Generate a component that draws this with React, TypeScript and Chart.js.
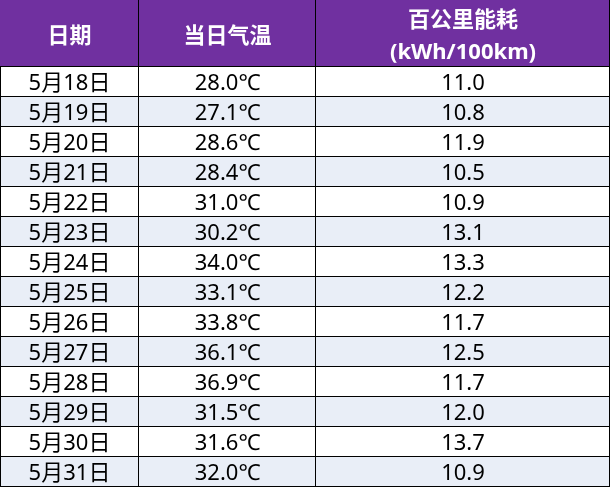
import React, { useEffect, useRef } from 'react';
import { Chart, registerables } from 'chart.js';

Chart.register(...registerables);

// ---- data ----
const dates = ['5月18日', '5月19日', '5月20日', '5月21日', '5月22日', '5月23日', '5月24日', '5月25日', '5月26日', '5月27日', '5月28日', '5月29日', '5月30日', '5月31日'];
const temps = [28.0, 27.1, 28.6, 28.4, 31.0, 30.2, 34.0, 33.1, 33.8, 36.1, 36.9, 31.5, 31.6, 32.0];
const energy = [11.0, 10.8, 11.9, 10.5, 10.9, 13.1, 13.3, 12.2, 11.7, 12.5, 11.7, 12.0, 13.7, 10.9];
const headerLines: string[][] = [['日期'], ['当日气温'], ['百公里能耗', '(kWh/100km)']];

// ---- layout (not data) ----
const W = 610;
const H = 487;
const HEADER_H = 67;
const colEdges = [0, 139, 316, 610];
const PURPLE = '#7030A0';
const STRIPE = '#E9EEF7';
const FONT = '"Noto Sans", "Noto Sans CJK SC", sans-serif';

const cellText = (col: number, i: number): string => {
  if (col === 0) return dates[i];
  if (col === 1) return temps[i].toFixed(1) + '℃';
  return energy[i].toFixed(1);
};

const tablePlugin = {
  id: 'tablePlugin',
  beforeDatasetsDraw(chart: any) {
    const { ctx, chartArea } = chart;
    ctx.save();
    ctx.fillStyle = PURPLE;
    ctx.fillRect(0, 0, W, chartArea.top);
    ctx.restore();
  },
  afterDatasetsDraw(chart: any) {
    const { ctx, chartArea, scales } = chart;
    const x = scales.x;
    ctx.save();
    // header bottom line
    ctx.fillStyle = '#000';
    ctx.fillRect(0, chartArea.top - 1, W, 1);
    // header column separators
    for (let j = 1; j < colEdges.length; j++) {
      const px = Math.round(x.getPixelForValue(colEdges[j]));
      ctx.fillRect(px - 1, 0, 1, chartArea.top);
    }
    // header text
    ctx.fillStyle = '#fff';
    ctx.textAlign = 'center';
    ctx.textBaseline = 'alphabetic';
    ctx.font = `bold 22px ${FONT}`;
    headerLines.forEach((lines, j) => {
      const cx = x.getPixelForValue((colEdges[j] + colEdges[j + 1]) / 2);
      const cy = (chartArea.top - 1) / 2; // 33
      const lh = 32;
      lines.forEach((t, k) => {
        const y = cy + (k - (lines.length - 1) / 2) * lh + 10;
        ctx.fillText(t, cx, Math.round(y));
      });
    });
    // cell text
    ctx.fillStyle = '#000';
    ctx.font = `22px ${FONT}`;
    for (let j = 0; j < 3; j++) {
      const meta = chart.getDatasetMeta(j);
      meta.data.forEach((el: any, i: number) => {
        const c = el.getCenterPoint();
        ctx.fillText(cellText(j, i), c.x, Math.round(c.y + 8));
      });
    }
    ctx.restore();
  },
};

export default function App() {
  const ref = useRef<HTMLCanvasElement | null>(null);

  useEffect(() => {
    document.body.style.margin = '0';
    const canvas = ref.current;
    if (!canvas) return;
    const datasets = [0, 1, 2].map((j) => ({
      label: 'col' + j,
      data: dates.map(() => [colEdges[j], colEdges[j + 1]] as [number, number]),
      backgroundColor: dates.map((_, i) => (i % 2 === 0 ? '#FFFFFF' : STRIPE)),
      borderColor: '#000',
      borderWidth: { top: 0, left: j === 0 ? 1 : 0, right: 1, bottom: 1 },
      borderSkipped: false as any,
      borderRadius: 0,
      inflateAmount: 0,
      grouped: false,
      barPercentage: 1,
      categoryPercentage: 1,
    }));
    const chart = new Chart(canvas, {
      type: 'bar',
      data: { labels: dates, datasets: datasets as any },
      options: {
        indexAxis: 'y',
        responsive: false,
        animation: false,
        events: [],
        layout: { padding: { top: HEADER_H, bottom: 0, left: 0, right: 0 } },
        scales: {
          x: { type: 'linear', min: 0, max: W, display: false },
          y: { type: 'category', display: false, offset: true },
        },
        plugins: {
          legend: { display: false },
          tooltip: { enabled: false },
        },
      },
      plugins: [tablePlugin],
    });
    return () => chart.destroy();
  }, []);

  return (
    <div style={{ width: W, height: H, background: '#fff' }}>
      <canvas ref={ref} width={W} height={H} style={{ display: 'block', width: W, height: H }} />
    </div>
  );
}
